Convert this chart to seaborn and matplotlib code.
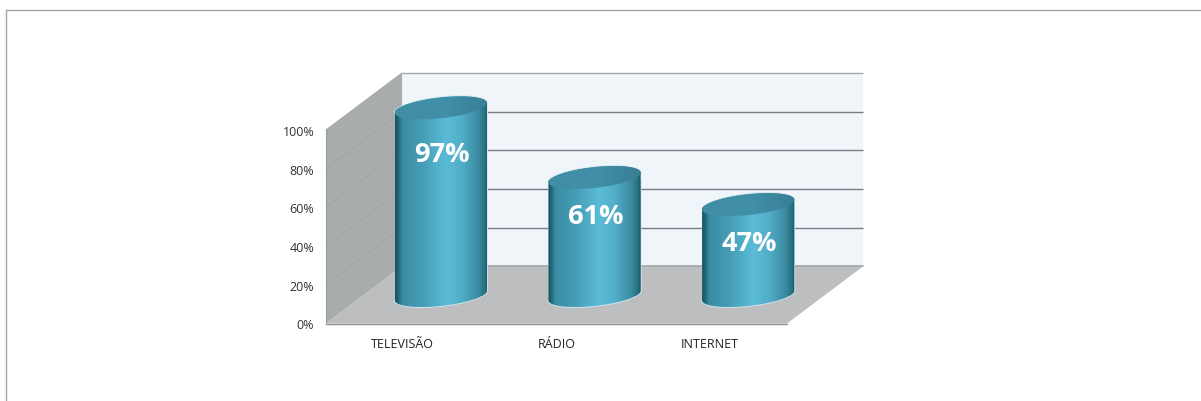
import numpy as np
import seaborn as sns
import matplotlib
matplotlib.use("Agg")
import matplotlib.pyplot as plt
from matplotlib.colors import LinearSegmentedColormap
from matplotlib.lines import Line2D
from matplotlib.patches import PathPatch, Polygon
from matplotlib.path import Path

categories = ["TELEVISÃO", "RÁDIO", "INTERNET"]
values = [97, 61, 47]
value_labels = ["97%", "61%", "47%"]
label_drops = [-46, -38, -38]
y_ticks = [0, 20, 40, 60, 80, 100]
y_tick_labels = ["0%", "20%", "40%", "60%", "80%", "100%"]

sns.set_theme(style="white")
plt.rcParams["font.family"] = ["Open Sans", "DejaVu Sans"]

W, H = 1201, 402
fig = plt.figure(figsize=(W / 100, H / 100), dpi=100, facecolor="white")
ax = fig.add_axes([326 / W, 1 - 324.5 / H, (787 - 326) / W, (324.5 - 131) / H])
ax.set_facecolor("none")

# Oblique depth of the fake 3D box, in data units
DX, DY = 0.495, 29.5
XL, XR = -0.5, 2.5
BAR_W = 0.6

sns.barplot(x=categories, y=values, width=BAR_W, color="#4aa3bb", saturation=1,
            ax=ax, zorder=5)
bars = list(ax.patches)

ax.set_xlim(XL, XR)
ax.set_ylim(0, 100)
ax.set_yticks(y_ticks, y_tick_labels)
ax.tick_params(axis="x", length=0, pad=10, labelsize=9.0, labelcolor="#222222")
ax.tick_params(axis="y", length=0, pad=8.5, labelsize=9.0, labelcolor="#333333")
sns.despine(ax=ax, left=True, bottom=True, top=True, right=True)
ax.grid(False)

# Walls and floor
ax.add_patch(Polygon([(XL + DX, DY), (XR + DX, DY), (XR + DX, 100 + DY), (XL + DX, 100 + DY)],
                     fc="#f0f5fa", ec="none", zorder=1, clip_on=False))
ax.add_patch(Polygon([(XL, 0), (XL + DX, DY), (XL + DX, 100 + DY), (XL, 100)],
                     fc="#a8acad", ec="none", zorder=1.2, clip_on=False))
ax.add_patch(Polygon([(XL, 0), (XR, 0), (XR + DX, DY), (XL + DX, DY)],
                     fc="#bcbec0", ec="none", zorder=1.4, clip_on=False))

# Gridlines on the back wall and on the side wall
for t in y_ticks[1:]:
    col = "#a3a6a8" if t == 100 else "#757d82"
    ax.plot([XL + DX, XR + DX], [t + DY, t + DY], color=col, lw=1.0, zorder=1.3,
            clip_on=False, solid_capstyle="butt")
    if t < 100:
        ax.plot([XL, XL + DX], [t, t + DY], color="#9fa3a4", lw=0.6, zorder=1.3,
                clip_on=False)
ax.plot([XL + DX, XR + DX], [DY, DY], color="#a0a3a5", lw=1.2, zorder=1.5, clip_on=False)
ax.plot([XL, XR], [0, 0], color="#8b8e92", lw=1.0, zorder=1.6, clip_on=False)
ax.plot([XL, XL], [0, 100], color="#9a9d9e", lw=0.8, zorder=1.6, clip_on=False)
ax.plot([XL, XL + DX], [100, 100 + DY], color="#a9acad", lw=0.8, zorder=1.6, clip_on=False)

# Cylinders: every barplot bar is moved to mid depth and shaped from its own height
side_cmap = LinearSegmentedColormap.from_list("side", [
    (0.00, "#174f60"), (0.03, "#1f6476"), (0.08, "#3a8ca2"), (0.30, "#469eb6"),
    (0.55, "#5bbcd8"), (0.72, "#52aec8"), (0.90, "#3a8aa0"), (0.97, "#26707f"),
    (1.00, "#1a5566")])
top_cmap = LinearSegmentedColormap.from_list("top", ["#3f8ea6", "#4290a8", "#377f96"])
A = BAR_W / 2
B, TILT = 5.4, 2.5
Y_BASE = DY / 2 - 0.3


def arc(cx, cy, t0, t1, n=80):
    t = np.linspace(t0, t1, n)
    return np.column_stack([cx + A * np.cos(t), cy + B * np.sin(t) + TILT * np.cos(t)])


for bar, label, drop in zip(bars, value_labels, label_drops):
    h = bar.get_height()
    cx = bar.get_x() + bar.get_width() / 2 + DX / 2
    y0 = Y_BASE
    y1 = y0 + h
    bar.set_x(cx - bar.get_width() / 2)
    bar.set_y(y0)
    bar.set_clip_on(True)
    bar.set_clip_box(fig.bbox)

    body = Path(np.vstack([arc(cx, y0, np.pi, 2 * np.pi), arc(cx, y1, 0, np.pi)]), closed=False)
    lid = Path(arc(cx, y1, 0, 2 * np.pi, 160))

    ax.add_patch(PathPatch(body, fc="none", ec="#cfe6ec", lw=1.3, zorder=4, clip_on=False))
    bar.set_clip_path(body, transform=ax.transData)

    grad = np.linspace(0, 1, 256).reshape(1, -1)
    extent = (cx - A, cx + A, y0 - 12, y1 + 12)
    im = ax.imshow(grad, cmap=side_cmap, extent=extent, aspect="auto", zorder=6,
                   interpolation="bilinear")
    im.set_clip_path(body, transform=ax.transData)
    im.set_clip_box(fig.bbox)

    im2 = ax.imshow(grad, cmap=top_cmap, extent=extent, aspect="auto", zorder=7,
                    interpolation="bilinear")
    im2.set_clip_path(lid, transform=ax.transData)
    im2.set_clip_box(fig.bbox)

    ax.annotate(label, xy=(cx, y1), xytext=(1, drop), textcoords="offset pixels",
                ha="center", va="center", color="white", fontsize=19.5,
                fontweight="bold", zorder=8, annotation_clip=False)

ax.set_xlim(XL, XR)
ax.set_ylim(0, 100)

# Outer frame of the picture (top and left only)
fig.add_artist(Line2D([5.5 / W, 1], [1 - 10.5 / H, 1 - 10.5 / H], color="#a5a5a5", lw=1))
fig.add_artist(Line2D([5.5 / W, 5.5 / W], [0, 1 - 10.5 / H], color="#a5a5a5", lw=1))

fig.savefig("out.png", dpi=100, facecolor="white")
